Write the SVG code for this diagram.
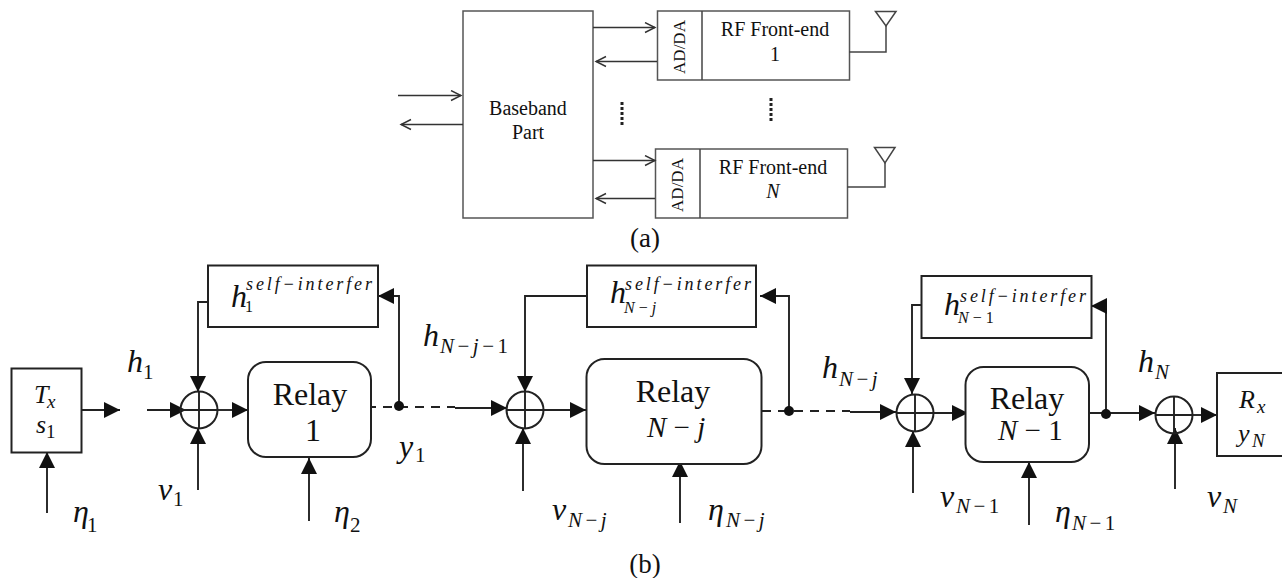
<svg xmlns="http://www.w3.org/2000/svg" width="1282" height="578" viewBox="0 0 1282 578">
<style>
text{font-family:"Liberation Serif","Times New Roman",serif;fill:#111}
.a{fill:#fff;stroke:#555;stroke-width:1.5}
.al{fill:none;stroke:#444;stroke-width:1.5}
.ao{fill:none;stroke:#333;stroke-width:1.4;marker-end:url(#open)}
.b{fill:#fff;stroke:#222;stroke-width:2}
.c{fill:none;stroke:#222;stroke-width:1.9}
.f{fill:none;stroke:#222;stroke-width:1.9;marker-end:url(#solid)}
.d{fill:none;stroke:#222;stroke-width:2;stroke-dasharray:9 7}
.dot{fill:#111}
.t20{font-size:20px;text-anchor:middle}
.t17{font-size:17px;text-anchor:middle}
.cap{font-size:27px;text-anchor:middle}
.rel{font-size:32px;text-anchor:middle}
.m{font-size:32px;font-style:italic}
.mi{font-size:29px;font-style:italic}
.s{font-size:21px;font-style:italic;letter-spacing:3.500px}
.ss{font-size:16px;font-style:italic;letter-spacing:4px}
.sup{font-size:18px;font-style:italic}
.tx{font-size:26px;font-style:italic}
.txs{font-size:19px;font-style:italic}
.r{font-style:normal}
</style>
<defs>
<marker id="open" markerUnits="userSpaceOnUse" markerWidth="14" markerHeight="14" refX="11" refY="6" orient="auto"><path d="M1 1L11 6L1 11" fill="none" stroke="#333" stroke-width="1.4"/></marker>
<marker id="solid" markerUnits="userSpaceOnUse" markerWidth="17" markerHeight="18" refX="16" refY="8.5" orient="auto"><path d="M0 0.5L16 8.5L0 16.5Z" fill="#111"/></marker>
</defs>

<g id="baseband"><rect class="a" x="463" y="11" width="130" height="207"/><text class="t20" x="528" y="115">Baseband</text><text class="t20" x="528" y="139">Part</text></g>
<g id="rf-1"><rect class="a" x="657.500" y="11" width="192" height="69"/><line class="al" x1="702" y1="11" x2="702" y2="80"/><text class="t17" transform="translate(685 47) rotate(-90)">AD/DA</text><text class="t20" x="775" y="36">RF Front-end</text><text class="t20" x="775" y="61">1</text></g>
<g id="rf-n"><rect class="a" x="655.500" y="149" width="192" height="69"/><line class="al" x1="700" y1="149" x2="700" y2="218"/><text class="t17" transform="translate(683 185) rotate(-90)">AD/DA</text><text class="t20" x="773" y="174">RF Front-end</text><text class="t20" x="773" y="198" style="font-style:italic">N</text></g>
<g id="antenna-1"><path class="al" d="M875.500 11.500H896L886 26Z"/><path class="al" d="M886 26V52H849"/></g>
<g id="antenna-n"><path class="al" d="M874.500 147.500H895L885 163Z"/><path class="al" d="M885 163V187H847"/></g>

<g id="connectors">
<path class="ao" d="M398 95.500H461"/><path class="ao" d="M463 124.500H401"/>
<path class="ao" d="M593 27.500H655"/><path class="ao" d="M657 61.500H596"/>
<path class="ao" d="M593 160.500H655"/><path class="ao" d="M655 198.500H596"/>
<path d="M622 102V126M771 98V122" fill="none" stroke="#222" stroke-width="3" stroke-dasharray="3 2"/>

<path class="f" d="M81 410H120"/><path class="f" d="M147 410H186"/><path class="f" d="M217 410H248"/>
<path class="f" d="M47 513V452"/><path class="f" d="M198 490V428"/><path class="f" d="M309 521V458"/>
<path class="f" d="M208 302H198V392"/><path class="f" d="M399 406V296H378"/>
<path class="d" d="M367 407H455"/><path class="f" d="M455 408H507"/>
<path class="f" d="M543 410H586"/><path class="f" d="M523 491V428"/><path class="f" d="M680 523V461"/>
<path class="f" d="M587 296H525V392"/><path class="f" d="M789 411V296H760"/>
<path class="d" d="M762 411H850"/><path class="f" d="M850 412H896"/>
<path class="f" d="M934 413H968"/><path class="f" d="M913 493V431"/><path class="f" d="M1029 525V462"/>
<path class="f" d="M921 305H912V394"/><path class="f" d="M1106 414V306H1091"/>
<path class="f" d="M1089 413H1155"/><path class="f" d="M1193 415H1217"/><path class="f" d="M1175 489V428"/>
<circle class="dot" cx="399" cy="406" r="5"/><circle class="dot" cx="789" cy="411" r="5"/><circle class="dot" cx="1106" cy="414" r="5"/>
</g>

<g id="tx"><rect class="b" x="11.500" y="368.500" width="70" height="84"/><text class="tx" x="34" y="403">T<tspan class="txs" x="47" y="408">x</tspan></text><text class="tx" x="36" y="433">s<tspan class="txs" x="46" y="438"><tspan class="r">1</tspan></tspan></text></g>
<g id="sum-1"><circle cx="199" cy="410" r="18.500" fill="none" stroke="#222" stroke-width="2"/><path class="c" d="M180.500 410H217.500M199 391.500V428.500"/></g>
<g id="relay-1"><rect class="b" x="248" y="362" width="123" height="95" rx="18"/><text class="rel" x="310" y="405">Relay</text><text class="rel" x="313" y="441">1</text></g>
<g id="self-1"><rect class="b" x="208" y="265.500" width="170" height="61.500"/><text class="m" x="231" y="307">h<tspan class="ss" x="245" y="312"><tspan class="r">1</tspan></tspan></text><text class="sup" x="246" y="290" textLength="126" lengthAdjust="spacing">self−interfer</text></g>
<g id="sum-nj"><circle cx="525" cy="410" r="18.500" fill="none" stroke="#222" stroke-width="2"/><path class="c" d="M506.500 410H543.500M525 391.500V428.500"/></g>
<g id="relay-nj"><rect class="b" x="586.500" y="359" width="175" height="105" rx="18"/><text class="rel" x="673" y="402">Relay</text><text class="mi" x="647" y="437">N<tspan class="r"> − </tspan>j</text></g>
<g id="self-nj"><rect class="b" x="587" y="265.500" width="169" height="61.500"/><text class="m" x="610" y="303">h<tspan class="ss" x="624" y="313">N<tspan class="r">−</tspan>j</tspan></text><text class="sup" x="625" y="290" textLength="126" lengthAdjust="spacing">self−interfer</text></g>
<g id="sum-n1"><circle cx="915" cy="413" r="18.500" fill="none" stroke="#222" stroke-width="2"/><path class="c" d="M896.500 413H933.500M915 394.500V431.500"/></g>
<g id="relay-n1"><rect class="b" x="965.500" y="367" width="123.500" height="95" rx="18"/><text class="rel" x="1027" y="409">Relay</text><text class="mi" x="998" y="440">N<tspan class="r"> − 1</tspan></text></g>
<g id="self-n1"><rect class="b" x="921.500" y="276" width="170" height="62"/><text class="m" x="944" y="315">h<tspan class="ss" x="958" y="323">N<tspan class="r">−1</tspan></tspan></text><text class="sup" x="960" y="302" textLength="126" lengthAdjust="spacing">self−interfer</text></g>
<g id="sum-n"><circle cx="1174" cy="415" r="18.500" fill="none" stroke="#222" stroke-width="2"/><path class="c" d="M1155.500 415H1192.500M1174 396.500V433.500"/></g>
<g id="rx"><rect class="b" x="1217" y="373" width="70" height="83"/><text class="tx" x="1239" y="408">R<tspan class="txs" x="1257" y="413">x</tspan></text><text class="tx" x="1238" y="442">y<tspan class="txs" x="1252" y="447">N</tspan></text></g>

<g id="labels">
<text class="m" x="127" y="372">h<tspan class="s" x="143" y="379"><tspan class="r">1</tspan></tspan></text>
<text class="m" x="423" y="346">h<tspan class="s" x="440" y="353">N<tspan class="r">−</tspan>j<tspan class="r">−1</tspan></tspan></text>
<text class="m" x="822" y="378">h<tspan class="s" x="839" y="386">N<tspan class="r">−</tspan>j</tspan></text>
<text class="m" x="1138" y="372">h<tspan class="s" x="1155" y="379">N</tspan></text>
<text class="m" x="399" y="457">y<tspan class="s" x="415" y="462"><tspan class="r">1</tspan></tspan></text>
<text class="m" x="158" y="500">ν<tspan class="s" x="173" y="506"><tspan class="r">1</tspan></tspan></text>
<text class="m" x="552" y="520">ν<tspan class="s" x="568" y="527">N<tspan class="r">−</tspan>j</tspan></text>
<text class="m" x="940" y="507">ν<tspan class="s" x="956" y="513">N<tspan class="r">−1</tspan></tspan></text>
<text class="m" x="1207" y="507">ν<tspan class="s" x="1223" y="513">N</tspan></text>
<text class="m" x="73" y="522">η<tspan class="s" x="87" y="532"><tspan class="r">1</tspan></tspan></text>
<text class="m" x="334" y="522">η<tspan class="s" x="350" y="532"><tspan class="r">2</tspan></tspan></text>
<text class="m" x="708" y="520">η<tspan class="s" x="726" y="527">N<tspan class="r">−</tspan>j</tspan></text>
<text class="m" x="1055" y="522">η<tspan class="s" x="1072" y="530">N<tspan class="r">−1</tspan></tspan></text>
<text class="cap" x="645" y="247">(a)</text>
<text class="cap" x="645" y="573">(b)</text>
</g>
</svg>
